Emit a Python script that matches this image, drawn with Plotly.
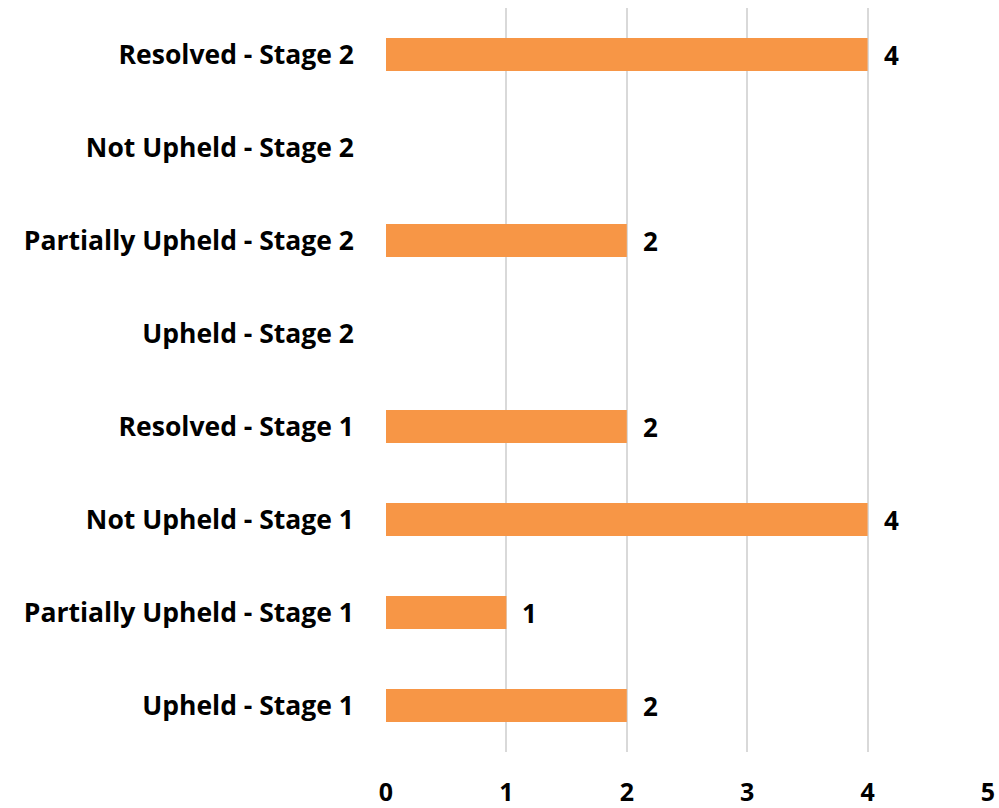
import plotly.graph_objects as go

categories = [
    "Upheld - Stage 1",
    "Partially Upheld - Stage 1",
    "Not Upheld - Stage 1",
    "Resolved - Stage 1",
    "Upheld - Stage 2",
    "Partially Upheld - Stage 2",
    "Not Upheld - Stage 2",
    "Resolved - Stage 2",
]
values = [2, 1, 4, 2, 0, 2, 0, 4]
x_ticks = [0, 1, 2, 3, 4, 5]

FONT = "Open Sans"
BOLD = dict(family=FONT, size=26, color="#000000", weight="bold")
BOLD_X = dict(family=FONT, size=25, color="#000000", weight="bold")
BOLD_Y = dict(family=FONT, size=26.5, color="#000000", weight="bold")

fig = go.Figure(
    go.Bar(
        y=categories,
        x=values,
        orientation="h",
        marker=dict(color="#F79646", line=dict(width=0)),
        hoverinfo="x+y",
    )
)

for cat, v in zip(categories, values):
    if v:
        fig.add_annotation(
            x=v, y=cat, text=str(v), showarrow=False,
            xanchor="left", yanchor="middle", xshift=14,
            font=BOLD,
        )

fig.update_layout(
    width=999,
    height=808,
    margin=dict(l=386, r=11, t=8, b=56, autoexpand=False),
    paper_bgcolor="white",
    plot_bgcolor="white",
    bargap=0.645,
    showlegend=False,
    font=dict(family=FONT, size=26, color="#000000"),
)

fig.update_xaxes(
    range=[0, 5],
    tickvals=x_ticks,
    ticktext=[str(t) for t in x_ticks],
    showgrid=True,
    gridcolor="#D9D9D9",
    gridwidth=2,
    zeroline=False,
    showline=False,
    ticks="",
    automargin=False,
    ticklabelstandoff=23,
    tickfont=BOLD_X,
    fixedrange=True,
)

fig.update_yaxes(
    categoryorder="array",
    categoryarray=categories,
    showgrid=False,
    zeroline=False,
    showline=False,
    ticks="",
    automargin=False,
    ticklabelstandoff=31,
    tickfont=BOLD_Y,
    fixedrange=True,
)

fig.write_html(
    "out.html",
    config={"displayModeBar": False},
    post_script="document.body.style.margin='0px';document.body.style.overflow='hidden';",
)
